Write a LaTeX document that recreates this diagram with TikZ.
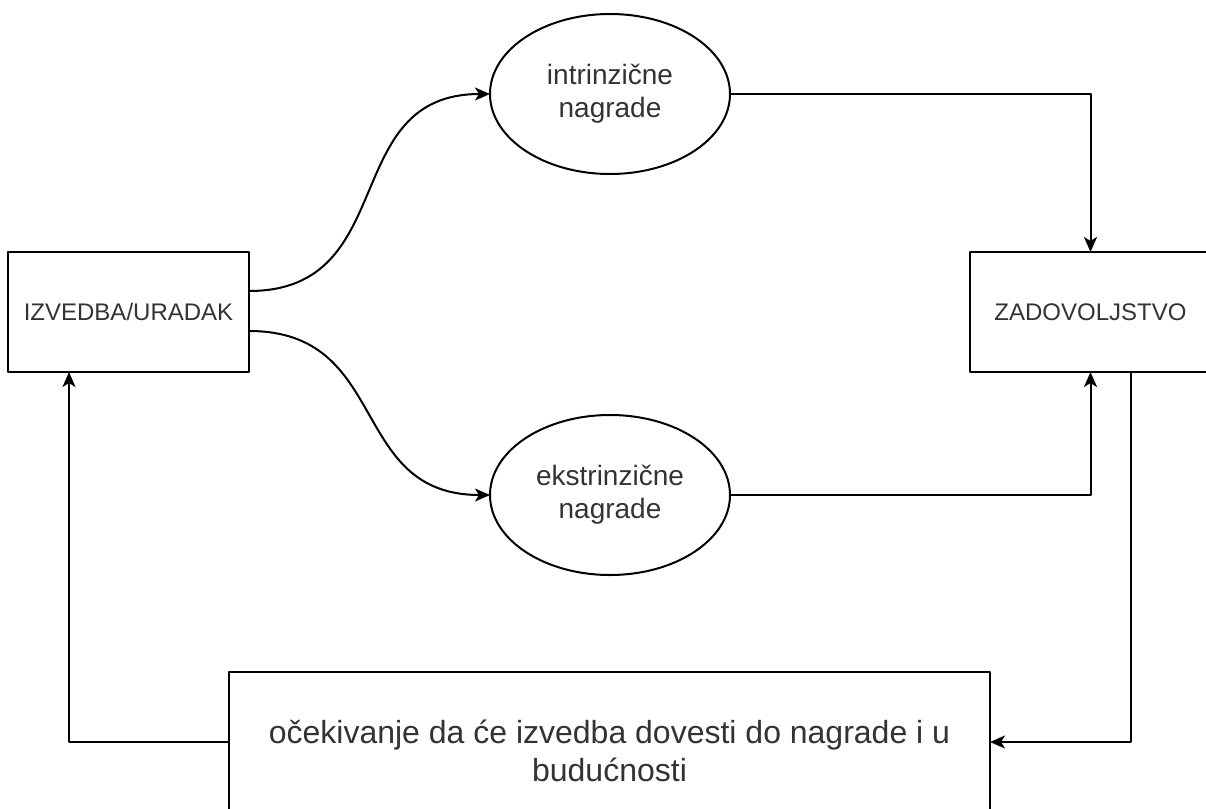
\documentclass[tikz,border=0pt]{standalone}
\usepackage{fontspec}
\setmainfont{Liberation Sans}
\usetikzlibrary{shapes.geometric,arrows.meta}
\tikzset{
	kutija/.style={draw, rectangle, inner sep=0pt, outer sep=0pt, align=center, text=black!80},
	elipsa/.style={draw, ellipse, inner sep=0pt, outer sep=0pt, align=center, text=black!80,
		minimum width=120pt, minimum height=80pt, font=\fontsize{14}{16.5}\selectfont}
}
\begin{document}
\begin{tikzpicture}[x=0.5pt, y=-0.5pt, line width=1pt, line join=round, >={Stealth[length=7.5pt,width=6.5pt,inset=2pt]}]
		\useasboundingbox (0,0) rectangle (1206,809);
		\path
		(128.5,312) node[kutija, minimum width=120.5pt, minimum height=60pt, font=\fontsize{12}{14.4}\selectfont] (uradak) {IZVEDBA/URADAK}
		(1090.5,312) node[kutija, minimum width=120.5pt, minimum height=60pt, font=\fontsize{12}{14.4}\selectfont] (zadovoljstvo) {ZADOVOLJSTVO}
		(610,94) node[elipsa] (intr) {intrinzične\\nagrade}
		(610,495) node[elipsa] (ekstr) {ekstrinzične\\nagrade}
		(609.5,751) node[kutija, minimum width=380.5pt, minimum height=79pt, font=\fontsize{16}{19}\selectfont] (ocek) {očekivanje da će izvedba dovesti do nagrade i u\\budućnosti};
		\draw [->] ([yshift=10.5pt]uradak.east) to[out=0, in=180, looseness=1.25] (intr.west);
		\draw [->] ([yshift=-9.5pt]uradak.east) to[out=0, in=180, looseness=1.25] (ekstr.west);
		\draw [->] (intr.east) -| (zadovoljstvo.north);
		\draw [->] (ekstr.east) -| (zadovoljstvo.south);
		\draw [->] ([xshift=20.25pt]zadovoljstvo.south) |- ([yshift=4.5pt]ocek.east);
		\draw [->] ([yshift=4.5pt]ocek.west) -| ([xshift=-29.75pt]uradak.south);
	\end{tikzpicture}
\end{document}
